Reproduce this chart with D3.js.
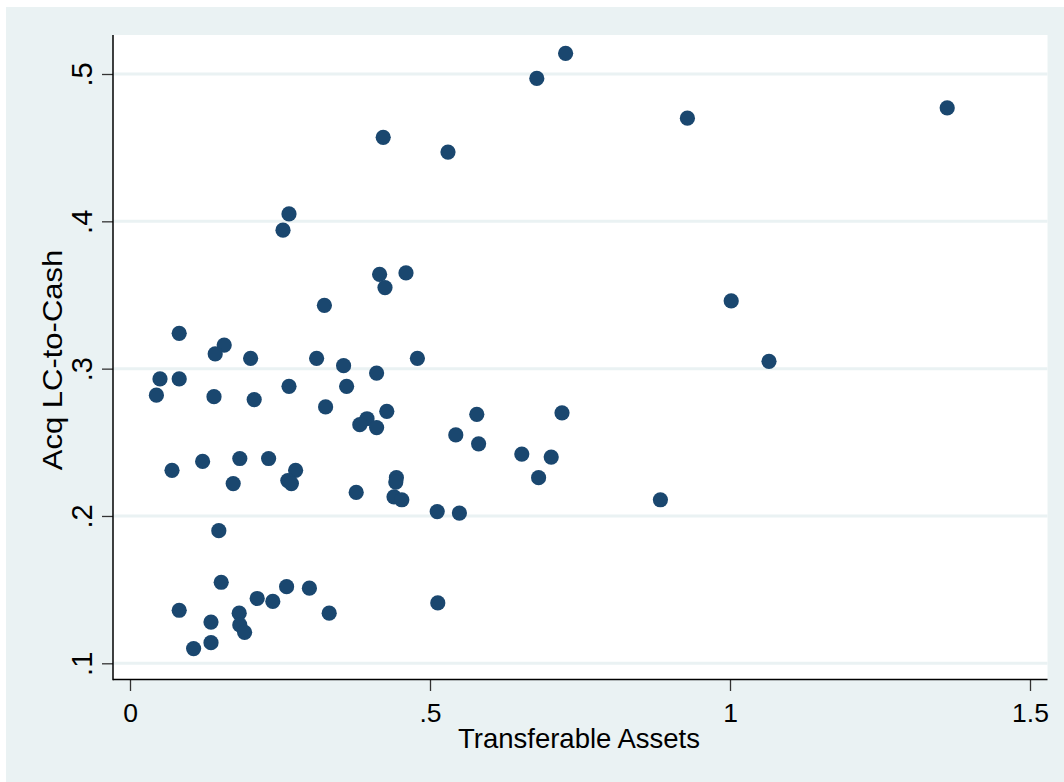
<!DOCTYPE html>
<html>
<head>
<meta charset="utf-8">
<script src="https://cdn.jsdelivr.net/npm/d3@7"></script>
<style>
  html, body { margin: 0; padding: 0; background: #ffffff; }
  svg { display: block; }
  text { font-family: "Liberation Sans", Arial, sans-serif; fill: #000; }
</style>
</head>
<body>
<svg id="chart" width="1064" height="782"></svg>
<script>
// Data (Transferable Assets vs Acq LC-to-Cash)
const transferableAssets = [
  0.726, 0.678, 1.362, 0.929, 0.422, 0.530, 0.265, 0.255, 0.460, 0.416,
  0.425, 0.324, 1.002, 0.082, 0.157, 0.142, 0.201, 0.311, 0.479, 0.356,
  1.065, 0.050, 0.082, 0.411, 0.044, 0.265, 0.361, 0.140, 0.207, 0.326,
  0.428, 0.720, 0.578, 0.395, 0.383, 0.411, 0.543, 0.581, 0.653, 0.702,
  0.231, 0.183, 0.121, 0.070, 0.276, 0.444, 0.443, 0.681, 0.263, 0.269,
  0.172, 0.377, 0.440, 0.453, 0.884, 0.512, 0.549, 0.148, 0.152, 0.261,
  0.299, 0.212, 0.238, 0.513, 0.082, 0.182, 0.332, 0.135, 0.183, 0.191,
  0.135, 0.106
];
const acqLCtoCash = [
  0.514, 0.497, 0.477, 0.470, 0.457, 0.447, 0.405, 0.394, 0.365, 0.364,
  0.355, 0.343, 0.346, 0.324, 0.316, 0.310, 0.307, 0.307, 0.307, 0.302,
  0.305, 0.293, 0.293, 0.297, 0.282, 0.288, 0.288, 0.281, 0.279, 0.274,
  0.271, 0.270, 0.269, 0.266, 0.262, 0.260, 0.255, 0.249, 0.242, 0.240,
  0.239, 0.239, 0.237, 0.231, 0.231, 0.226, 0.223, 0.226, 0.224, 0.222,
  0.222, 0.216, 0.213, 0.211, 0.211, 0.203, 0.202, 0.190, 0.155, 0.152,
  0.151, 0.144, 0.142, 0.141, 0.136, 0.134, 0.134, 0.128, 0.126, 0.121,
  0.114, 0.110
];
const xTickValues = [0, 0.5, 1, 1.5];
const xTickLabels = ["0", ".5", "1", "1.5"];
const yTickValues = [0.1, 0.2, 0.3, 0.4, 0.5];
const yTickLabels = [".1", ".2", ".3", ".4", ".5"];
const xTitle = "Transferable Assets";
const yTitle = "Acq LC-to-Cash";

const points = transferableAssets.map((x, i) => ({ x: x, y: acqLCtoCash[i] }));

const svg = d3.select("#chart");
const plot = { left: 113, right: 1047.5, top: 35, bottom: 679.5 };

// outer background
svg.append("rect").attr("x", 6).attr("y", 7).attr("width", 1064 - 6).attr("height", 782 - 7)
  .attr("fill", "#eaf2f3");
// plot region
svg.append("rect").attr("x", plot.left).attr("y", plot.top)
  .attr("width", plot.right - plot.left).attr("height", plot.bottom - plot.top)
  .attr("fill", "#ffffff");

const x = d3.scaleLinear().domain([0, 1.5]).range([130, 1030]);
const y = d3.scaleLinear().domain([0.1, 0.5]).range([663.3, 74]);

// grid lines
svg.append("g").selectAll("line").data(yTickValues).join("line")
  .attr("x1", plot.left).attr("x2", plot.right)
  .attr("y1", d => y(d)).attr("y2", d => y(d))
  .attr("stroke", "#eaf2f3").attr("stroke-width", 3);

// points
svg.append("g").selectAll("circle").data(points).join("circle")
  .attr("cx", d => x(d.x)).attr("cy", d => y(d.y)).attr("r", 7.6)
  .attr("fill", "#1a476f");

// y axis
const yAxis = d3.axisLeft(y).tickValues(yTickValues)
  .tickFormat((d, i) => yTickLabels[i]).tickSize(11).tickSizeOuter(0);
const gy = svg.append("g").attr("transform", `translate(${plot.left},0)`).call(yAxis);
gy.select(".domain").remove();
gy.selectAll(".tick line").attr("stroke", "#333").attr("stroke-width", 1.3);
gy.selectAll(".tick text")
  .attr("transform", "rotate(-90)")
  .attr("x", 0).attr("y", -21).attr("dy", 0)
  .attr("text-anchor", "middle")
  .style("font-size", "29px")
  .style("font-family", "'Liberation Sans', Arial, sans-serif")
  .attr("fill", "#000");

// x axis
const xAxis = d3.axisBottom(x).tickValues(xTickValues)
  .tickFormat((d, i) => xTickLabels[i]).tickSize(11.5).tickSizeOuter(0);
const gx = svg.append("g").attr("transform", `translate(0,${plot.bottom})`).call(xAxis);
gx.select(".domain").remove();
gx.selectAll(".tick line").attr("stroke", "#333").attr("stroke-width", 1.3);
gx.selectAll(".tick text")
  .attr("y", 42.5).attr("dy", 0)
  .style("font-size", "26.5px")
  .style("font-family", "'Liberation Sans', Arial, sans-serif")
  .attr("fill", "#000");

// axis lines
svg.append("line").attr("x1", plot.left).attr("x2", plot.left)
  .attr("y1", plot.top).attr("y2", plot.bottom + 0.7)
  .attr("stroke", "#000").attr("stroke-width", 1.5);
svg.append("line").attr("x1", plot.left).attr("x2", plot.right)
  .attr("y1", plot.bottom).attr("y2", plot.bottom)
  .attr("stroke", "#000").attr("stroke-width", 1.5);

// titles
svg.append("text").attr("x", 579).attr("y", 748)
  .attr("text-anchor", "middle").style("font-size", "27.5px").text(xTitle);
svg.append("text")
  .attr("transform", "translate(62,360) rotate(-90) scale(1,0.9)")
  .attr("text-anchor", "middle").style("font-size", "31px").text(yTitle);
</script>
</body>
</html>
